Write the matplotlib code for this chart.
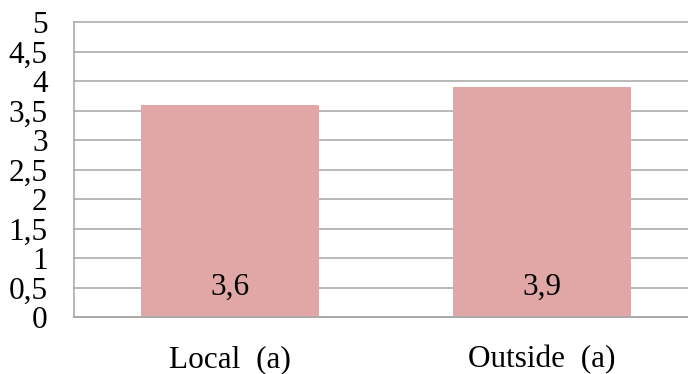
import matplotlib.pyplot as plt
from matplotlib.ticker import FuncFormatter
import numpy as np

plt.rcParams["font.family"] = ["Liberation Serif", "DejaVu Serif"]

categories = ["Local  (a)", "Outside  (a)"]
values = [3.6, 3.9]
value_labels = ["3,6", "3,9"]
y_ticks = [0, 0.5, 1, 1.5, 2, 2.5, 3, 3.5, 4, 4.5, 5]

bar_color = "#E0A7A6"
grid_color = "#A6A6A6"
fs = 22.5

fig = plt.figure(figsize=(6.88, 3.74), dpi=100)
# axes run past the right edge of the figure so the last gridlines are cut off
ax = fig.add_axes([74 / 688, 1 - 317.3 / 374, 624 / 688, 295 / 374])

x = np.arange(len(categories))
ax.bar(x, values, width=0.57, color=bar_color, zorder=2)

for xi, lab in zip(x, value_labels):
    ax.text(xi, 0.5, lab, ha="center", va="center", fontsize=fs, zorder=3)

ax.set_xlim(-0.5, len(categories) - 0.5)
ax.set_ylim(0, 5)
ax.set_yticks(y_ticks)
ax.yaxis.set_major_formatter(FuncFormatter(lambda v, p: f"{v:g}".replace(".", ",")))
ax.set_xticks(x)
ax.set_xticklabels(categories)
ax.tick_params(axis="y", length=0, pad=19, labelsize=fs)
ax.tick_params(axis="x", length=0, pad=20, labelsize=fs)
for lab in ax.get_yticklabels():
    lab.set_va("center_baseline")
ax.grid(axis="y", color=grid_color, linewidth=1.1, zorder=1)
for gl in ax.get_ygridlines():
    gl.set_clip_on(False)
ax.set_axisbelow(True)

for side in ["top", "right"]:
    ax.spines[side].set_visible(False)
ax.spines["left"].set_color(grid_color)
ax.spines["left"].set_linewidth(1.1)
ax.spines["bottom"].set_color(grid_color)
ax.spines["bottom"].set_linewidth(1.1)

fig.savefig("out.png", dpi=100)
